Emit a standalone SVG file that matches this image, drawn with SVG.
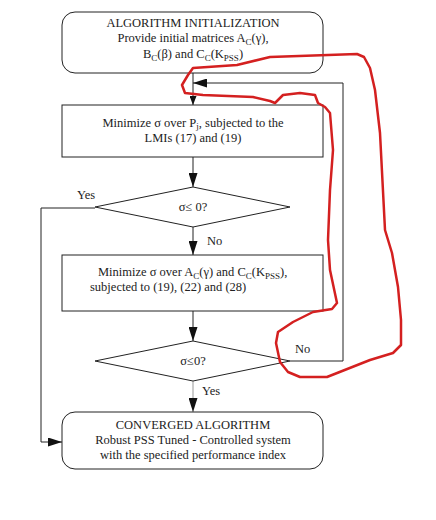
<svg xmlns="http://www.w3.org/2000/svg" width="436" height="520" viewBox="0 0 436 520">
<style>
.box{fill:#fff;stroke:#222;stroke-width:1}
.t{font-family:"Liberation Serif","Times New Roman",serif;font-size:12.5px;fill:#222}
.c{text-anchor:middle}
.cn{fill:none;stroke:#222;stroke-width:1}
.sub{font-size:9px}
</style>
<defs>
<marker id="ah" viewBox="0 0 14 9" refX="14" refY="4.5" markerWidth="14" markerHeight="9" orient="auto" markerUnits="userSpaceOnUse"><path d="M0,0 L14,4.5 L0,9 z" fill="#111"/></marker>
<marker id="ahs" viewBox="0 0 9 7" refX="9" refY="3.5" markerWidth="9" markerHeight="7" orient="auto" markerUnits="userSpaceOnUse"><path d="M0,0 L9,3.5 L0,7 z" fill="#111"/></marker>
</defs>
<rect width="436" height="520" fill="#fff"/>
<g id="connectors">
<line class="cn" x1="193" y1="73" x2="193" y2="105" marker-end="url(#ahs)"/>
<polyline class="cn" points="290,361 343,361 343,83 193,83" marker-end="url(#ah)"/>
<line class="cn" x1="193" y1="157" x2="193" y2="187" marker-end="url(#ah)"/>
<polyline class="cn" points="95,208 41,208 41,442 62,442" marker-end="url(#ah)"/>
<line class="cn" x1="193" y1="227" x2="193" y2="255" marker-end="url(#ah)"/>
<line class="cn" x1="193" y1="311" x2="193" y2="341" marker-end="url(#ah)"/>
<line class="cn" x1="193" y1="381" x2="193" y2="412" style="stroke:#999" marker-end="url(#ah)"/>
<text class="t" x="77" y="199">Yes</text>
<text class="t" x="207" y="245">No</text>
<text class="t" x="295" y="353">No</text>
<text class="t" x="202" y="395">Yes</text>
</g>
<g id="init">
<rect class="box" x="62" y="12" width="261" height="61" rx="13"/>
<text class="t c" x="193" y="27">ALGORITHM INITIALIZATION</text>
<text class="t c" x="193" y="42">Provide initial matrices A<tspan class="sub" dy="3">C</tspan><tspan dy="-3">(γ),</tspan></text>
<text class="t c" x="193" y="58">B<tspan class="sub" dy="3">C</tspan><tspan dy="-3">(β) and C</tspan><tspan class="sub" dy="3">C</tspan><tspan dy="-3">(K</tspan><tspan class="sub" dy="3">PSS</tspan><tspan dy="-3">)</tspan></text>
</g>
<g id="min-pj">
<rect class="box" x="62" y="105" width="261" height="52"/>
<text class="t c" x="193" y="127">Minimize σ over P<tspan class="sub" dy="2">j</tspan><tspan dy="-2">, subjected to the</tspan></text>
<text class="t c" x="193" y="142">LMIs (17) and (19)</text>
</g>
<g id="check1">
<polygon class="box" points="193,187 290,207 193,227 95,207"/>
<text class="t c" x="193" y="211">σ≤ 0?</text>
</g>
<g id="min-ac">
<rect class="box" x="62" y="255" width="261" height="56"/>
<text class="t" x="98" y="276">Minimize σ over A<tspan class="sub" dy="3">C</tspan><tspan dy="-3">(γ) and C</tspan><tspan class="sub" dy="3">C</tspan><tspan dy="-3">(K</tspan><tspan class="sub" dy="3">PSS</tspan><tspan dy="-3">),</tspan></text>
<text class="t" x="90" y="291">subjected to (19), (22) and (28)</text>
</g>
<g id="check2">
<polygon class="box" points="193,341 290,361 193,381 95,361"/>
<text class="t c" x="193" y="365">σ≤0?</text>
</g>
<g id="converged">
<rect class="box" x="62" y="412" width="261" height="57" rx="13"/>
<text class="t c" x="193" y="429">CONVERGED ALGORITHM</text>
<text class="t c" x="193" y="444">Robust PSS Tuned - Controlled system</text>
<text class="t c" x="193" y="459">with the specified performance index</text>
</g>
<path id="red-loop" d="M275,103 L270,101 L253,97 L203,95 L185,93 L182,85 L188,75 L193,68 L237,65 L270,57 L357,54 L364,57 L370,68 L375,90 L380,133 L385,230 L392,253 L398,287 L401,320 L401,345 L393,353 L370,360 L327,377 L300,377 L288,372 L280,362 L276,343 L278,332 L293,322 L313,312 L332,309 L337,303 L330,270 L328,240 L330,190 L333,150 L330,113 L325,107 L318,103 L315,95 L300,93 L283,95 Z" fill="none" stroke="#d42020" stroke-width="2.5" stroke-linejoin="round"/>
</svg>
